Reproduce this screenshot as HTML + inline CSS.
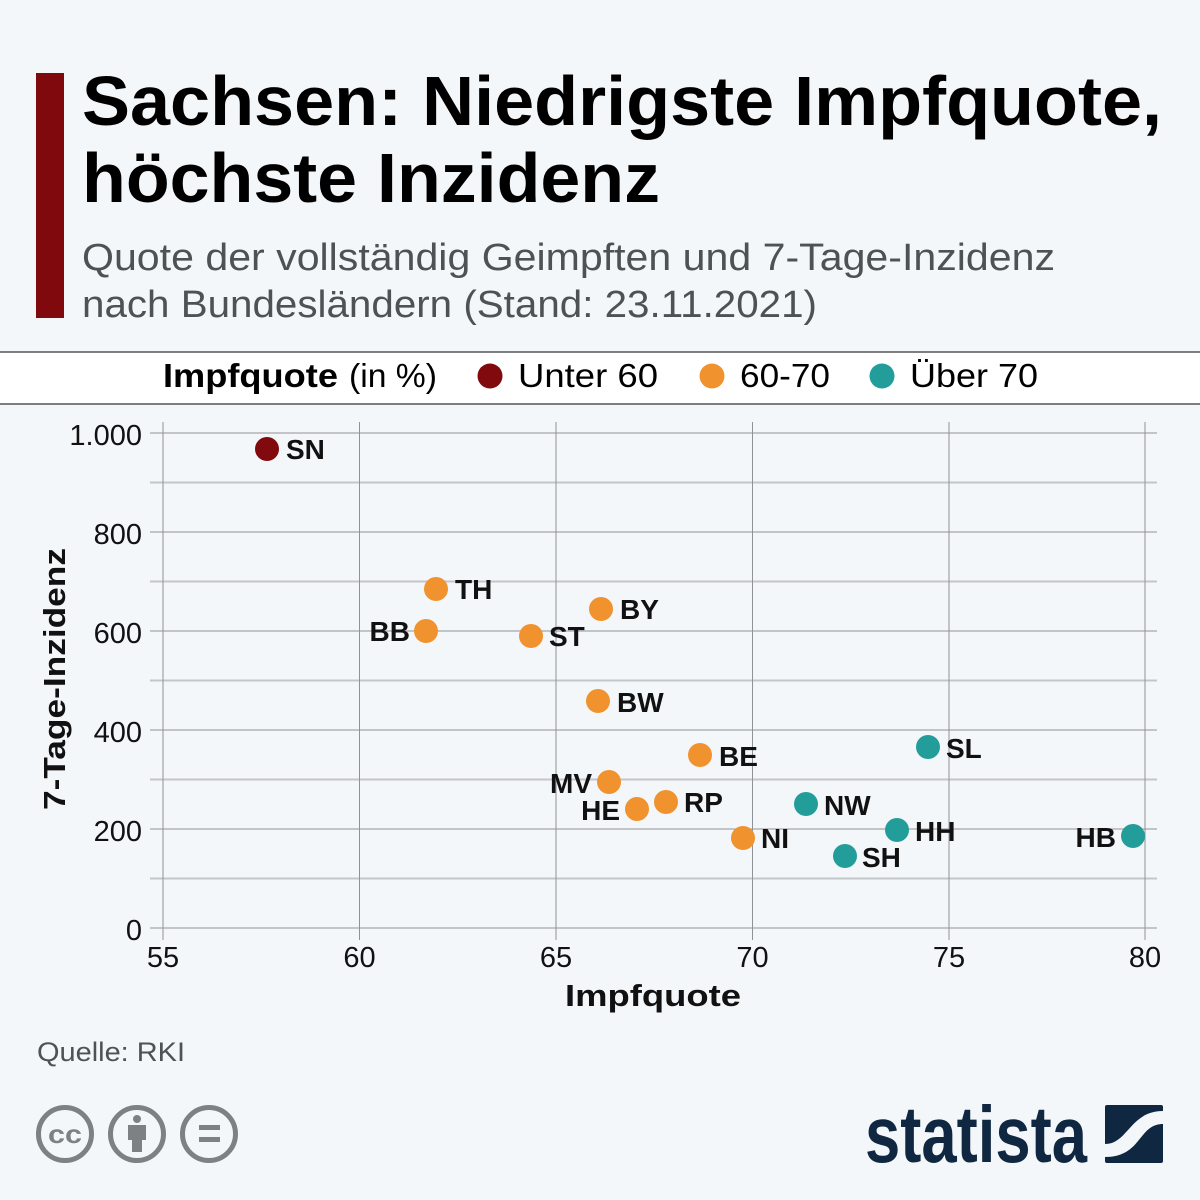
<!DOCTYPE html>
<html><head><meta charset="utf-8"><style>
html,body{margin:0;padding:0;background:#f4f7fa;}
svg{display:block;}
text{font-family:"Liberation Sans",Arial,sans-serif;}
</style></head><body>
<svg width="1200" height="1200" viewBox="0 0 1200 1200" xmlns="http://www.w3.org/2000/svg">
<rect x="0" y="0" width="1200" height="1200" fill="#f4f7fa"/>
<!-- title -->
<rect x="36" y="73" width="28" height="245" fill="#7f090c"/>
<text x="82" y="125" font-size="70" font-weight="bold" fill="#000" textLength="1080" lengthAdjust="spacingAndGlyphs">Sachsen: Niedrigste Impfquote,</text>
<text x="82" y="202" font-size="70" font-weight="bold" fill="#000" textLength="578" lengthAdjust="spacingAndGlyphs">höchste Inzidenz</text>
<text x="82" y="270" font-size="38" fill="#4d5257" textLength="973" lengthAdjust="spacingAndGlyphs">Quote der vollständig Geimpften und 7-Tage-Inzidenz</text>
<text x="82" y="317" font-size="38" fill="#4d5257" textLength="735" lengthAdjust="spacingAndGlyphs">nach Bundesländern (Stand: 23.11.2021)</text>
<!-- legend band -->
<rect x="0" y="352" width="1200" height="52" fill="#ffffff"/>
<line x1="0" y1="352" x2="1200" y2="352" stroke="#555" stroke-width="1.5"/>
<line x1="0" y1="404" x2="1200" y2="404" stroke="#555" stroke-width="1.5"/>
<text x="163" y="387" font-size="33" font-weight="bold" fill="#000" textLength="175" lengthAdjust="spacingAndGlyphs">Impfquote</text>
<text x="349" y="387" font-size="33" fill="#000" textLength="88" lengthAdjust="spacingAndGlyphs">(in %)</text>
<circle cx="490" cy="376" r="12.5" fill="#800a0d"/>
<text x="518" y="387" font-size="33" fill="#000" textLength="140" lengthAdjust="spacingAndGlyphs">Unter 60</text>
<circle cx="712" cy="376" r="12.5" fill="#f0922d"/>
<text x="740" y="387" font-size="33" fill="#000" textLength="90" lengthAdjust="spacingAndGlyphs">60-70</text>
<circle cx="882" cy="376" r="12.5" fill="#239d9a"/>
<text x="910" y="387" font-size="33" fill="#000" textLength="128" lengthAdjust="spacingAndGlyphs">Über 70</text>
<!-- grid minor -->
<g stroke="#c3c6c9" stroke-width="2">
<line x1="150" y1="878.5" x2="1157" y2="878.5"/>
<line x1="150" y1="779.5" x2="1157" y2="779.5"/>
<line x1="150" y1="680.5" x2="1157" y2="680.5"/>
<line x1="150" y1="581.5" x2="1157" y2="581.5"/>
<line x1="150" y1="482.5" x2="1157" y2="482.5"/>
</g>
<g stroke="#8f9296" stroke-width="1">
<line x1="150" y1="928" x2="1157" y2="928"/>
<line x1="150" y1="829" x2="1157" y2="829"/>
<line x1="150" y1="730" x2="1157" y2="730"/>
<line x1="150" y1="631" x2="1157" y2="631"/>
<line x1="150" y1="532" x2="1157" y2="532"/>
<line x1="150" y1="433" x2="1157" y2="433"/>
<line x1="163" y1="422" x2="163" y2="940"/>
<line x1="359.5" y1="422" x2="359.5" y2="940"/>
<line x1="556" y1="422" x2="556" y2="940"/>
<line x1="752.5" y1="422" x2="752.5" y2="940"/>
<line x1="949" y1="422" x2="949" y2="940"/>
<line x1="1145" y1="422" x2="1145" y2="940"/>
</g>
<!-- y ticks -->
<g font-size="29" fill="#111" text-anchor="end">
<text x="142" y="445">1.000</text>
<text x="142" y="544">800</text>
<text x="142" y="643">600</text>
<text x="142" y="742">400</text>
<text x="142" y="841">200</text>
<text x="142" y="940">0</text>
</g>
<!-- x ticks -->
<g font-size="29" fill="#111" text-anchor="middle">
<text x="163" y="967">55</text>
<text x="359.5" y="967">60</text>
<text x="556" y="967">65</text>
<text x="752.5" y="967">70</text>
<text x="949" y="967">75</text>
<text x="1145" y="967">80</text>
</g>
<text x="653" y="1006" font-size="31" font-weight="bold" fill="#111" text-anchor="middle" textLength="176" lengthAdjust="spacingAndGlyphs">Impfquote</text>
<text transform="translate(65,679) rotate(-90)" x="0" y="0" font-size="31" font-weight="bold" fill="#111" text-anchor="middle" textLength="262" lengthAdjust="spacingAndGlyphs">7-Tage-Inzidenz</text>
<!-- points -->
<circle cx="267" cy="449" r="12" fill="#800a0d"/>
<g fill="#f0922d">
<circle cx="436" cy="589" r="12"/>
<circle cx="426" cy="631" r="12"/>
<circle cx="601" cy="609" r="12"/>
<circle cx="531" cy="636" r="12"/>
<circle cx="598" cy="701" r="12"/>
<circle cx="700" cy="755" r="12"/>
<circle cx="609" cy="782" r="12"/>
<circle cx="637" cy="809" r="12"/>
<circle cx="666" cy="802" r="12"/>
<circle cx="743" cy="838" r="12"/>
</g>
<g fill="#239d9a">
<circle cx="806" cy="804" r="12"/>
<circle cx="928" cy="747" r="12"/>
<circle cx="897" cy="830" r="12"/>
<circle cx="845" cy="856" r="12"/>
<circle cx="1133" cy="836" r="12"/>
</g>
<!-- point labels -->
<g font-size="28" font-weight="bold" fill="#111">
<text x="286" y="459">SN</text>
<text x="455" y="599">TH</text>
<text x="410" y="641" text-anchor="end">BB</text>
<text x="620" y="619">BY</text>
<text x="549" y="646">ST</text>
<text x="617" y="712">BW</text>
<text x="719" y="766">BE</text>
<text x="592" y="793" text-anchor="end">MV</text>
<text x="620" y="820" text-anchor="end">HE</text>
<text x="684" y="812">RP</text>
<text x="761" y="848">NI</text>
<text x="824" y="815">NW</text>
<text x="946" y="758">SL</text>
<text x="915" y="841">HH</text>
<text x="862" y="867">SH</text>
<text x="1116" y="847" text-anchor="end">HB</text>
</g>
<!-- footer -->
<text x="37" y="1061" font-size="27" fill="#4d5257" textLength="148" lengthAdjust="spacingAndGlyphs">Quelle: RKI</text>
<g stroke="#7d8183" stroke-width="5" fill="none">
<circle cx="65" cy="1134" r="26.5"/>
<circle cx="137" cy="1134" r="26.5"/>
<circle cx="209" cy="1134" r="26.5"/>
</g>
<text x="65" y="1143" font-size="26" font-weight="bold" fill="#7d8183" text-anchor="middle" textLength="34" lengthAdjust="spacingAndGlyphs">cc</text>
<circle cx="137" cy="1119" r="4" fill="#7d8183"/>
<path d="M128,1125 h18 v15 h-4 v12 h-10 v-12 h-4 z" fill="#7d8183"/>
<rect x="199" y="1125" width="21" height="5" fill="#7d8183"/>
<rect x="199" y="1137" width="21" height="5" fill="#7d8183"/>
<!-- statista logo -->
<text x="865" y="1162" font-size="80" font-weight="bold" fill="#0f2741" textLength="222" lengthAdjust="spacingAndGlyphs">statista</text>
<rect x="1105" y="1105" width="58" height="58" rx="2" fill="#0f2741"/>
<path d="M1105,1144 C1128,1144 1130,1111 1163,1111 L1163,1124 C1138,1124 1142,1157 1105,1157 Z" fill="#f4f7fa"/>
</svg>
</body></html>
